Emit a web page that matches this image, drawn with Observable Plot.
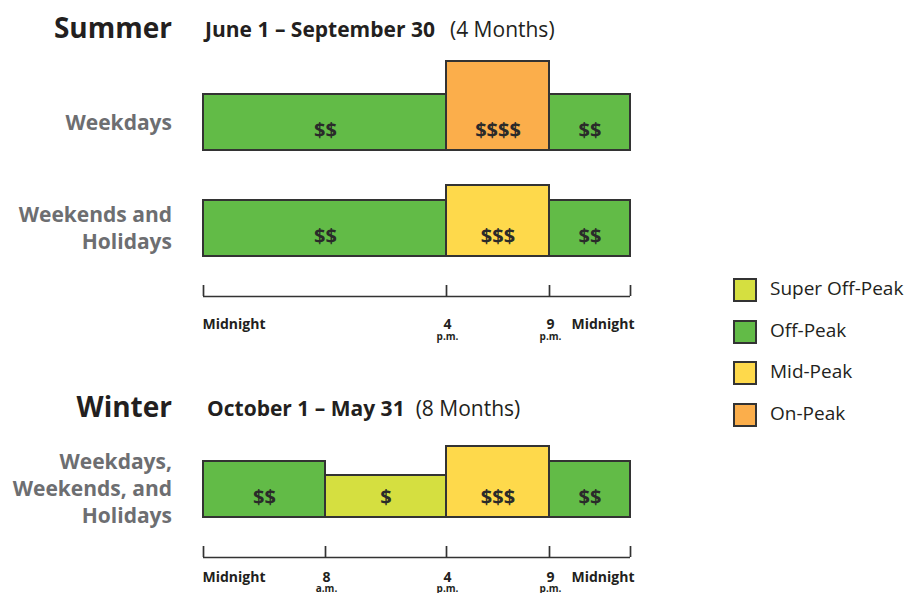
<!DOCTYPE html>
<html><head><meta charset="utf-8">
<script src="https://cdn.jsdelivr.net/npm/d3@7"></script>
<script src="https://cdn.jsdelivr.net/npm/@observablehq/plot@0.6"></script>
<style>
body{margin:0;background:#fff;}
#root{position:relative;width:906px;height:593px;overflow:hidden;font-family:"Open Sans",sans-serif;background:#fff;}
.abs{position:absolute;white-space:nowrap;line-height:1;}
.abs svg{display:block;}
</style></head><body><div id="root"></div>
<script>
// ---------- data ----------
const periodNames  = ["Super Off-Peak", "Off-Peak", "Mid-Peak", "On-Peak"];
const periodColors = ["#d5df40", "#62bb47", "#fed94b", "#fbae4b"];
const periodLevel  = [1, 2, 3, 4];
const periodPrice  = ["$", "$$", "$$$", "$$$$"];

const summerWeekdayStart  = [0, 16, 21];
const summerWeekdayEnd    = [16, 21, 24];
const summerWeekdayPeriod = ["Off-Peak", "On-Peak", "Off-Peak"];

const summerWeekendStart  = [0, 16, 21];
const summerWeekendEnd    = [16, 21, 24];
const summerWeekendPeriod = ["Off-Peak", "Mid-Peak", "Off-Peak"];

const winterStart  = [0, 8, 16, 21];
const winterEnd    = [8, 16, 21, 24];
const winterPeriod = ["Off-Peak", "Super Off-Peak", "Mid-Peak", "Off-Peak"];

const summerTickHours  = [0, 16, 21, 24];
const summerTickLabels = ["Midnight", "4", "9", "Midnight"];
const summerTickSub    = ["", "p.m.", "p.m.", ""];

const winterTickHours  = [0, 8, 16, 21, 24];
const winterTickLabels = ["Midnight", "8", "4", "9", "Midnight"];
const winterTickSub    = ["", "a.m.", "p.m.", "p.m.", ""];

// ---------- layout ----------
const W = 906;
// the diagram draws its time axis piecewise (not proportional to hours)
const X_BREAKS = [0, 8, 16, 21, 24];
const X_PX     = [203, 325, 446, 549, 630];
const xWarp = d3.scaleLinear(X_BREAKS, X_PX);
// bar height (px) per price level
const LEVEL_PX = [0, 42, 56, 71, 89];
const yWarp = d3.scaleLinear([0, 1, 2, 3, 4], LEVEL_PX);
const INK = "#333333";

const root = document.getElementById("root");
function place(svg, top, h) {
  svg.style.maxWidth = "none";
  const d = document.createElement("div");
  d.className = "abs";
  d.style.left = "0px";
  d.style.top = top + "px";
  d.style.width = W + "px";
  d.style.height = h + "px";
  d.appendChild(svg);
  root.appendChild(d);
}
function html(str, style) {
  const d = document.createElement("div");
  d.className = "abs";
  d.innerHTML = str;
  Object.assign(d.style, style);
  root.appendChild(d);
  return d;
}
const xScale = {transform: xWarp, domain: [0, W], range: [0, W], axis: null};

function rowPlot(start, end, period, bottomY) {
  const data = start.map((s, i) => {
    const k = periodNames.indexOf(period[i]);
    return {x1: s, x2: end[i], period: period[i], level: periodLevel[k], price: periodPrice[k]};
  });
  const H = 100, base = 96;
  const svg = Plot.plot({
    width: W, height: H, margin: 0,
    style: {background: "transparent", overflow: "visible"},
    x: xScale,
    y: {transform: yWarp, domain: [0, 100], range: [base, base - 100], axis: null},
    color: {domain: periodNames, range: periodColors},
    marks: [
      Plot.rect(data, {x1: "x1", x2: "x2", y1: 0, y2: "level", fill: "period", stroke: INK, strokeWidth: 2}),
      Plot.text(data, {x: d => (d.x1 + d.x2) / 2, y: 0, dy: -20, text: "price",
        fontSize: 20, fontWeight: 700, fill: "#2a2a2a", fontFamily: "Open Sans"})
    ]
  });
  place(svg, bottomY - base, H);
}

function axisPlot(hours, labels, subs, lineY, labelOffset, subOffset) {
  const n = hours.length;
  const data = hours.map((h, i) => ({h, label: labels[i], sub: subs[i],
    anchor: i === 0 ? "start" : i === n - 1 ? "end" : "middle"}));
  const H = 60, base = 14;
  const common = {fontFamily: "Open Sans", fontWeight: 700, fill: "#231f20", lineAnchor: "bottom"};
  const svg = Plot.plot({
    width: W, height: H, margin: 0,
    style: {background: "transparent", overflow: "visible"},
    x: xScale,
    y: {domain: [0, 1], range: [base, base - 11], axis: null},
    marks: [
      Plot.ruleY([0], {x1: 0, x2: 24, stroke: INK, strokeWidth: 1.7}),
      Plot.ruleX(hours, {x: d => d, y1: 0, y2: 1, stroke: INK, strokeWidth: 1.7}),
      Plot.text(data.filter(d => d.anchor === "start"), {...common, x: "h", y: 0, dy: labelOffset, text: "label", fontSize: 14, textAnchor: "start", dx: -1}),
      Plot.text(data.filter(d => d.anchor === "end"), {...common, x: "h", y: 0, dy: labelOffset, text: "label", fontSize: 14, textAnchor: "end", dx: 4}),
      Plot.text(data.filter(d => d.anchor === "middle"), {...common, x: "h", y: 0, dy: labelOffset, text: "label", fontSize: 14, textAnchor: "middle", dx: 1}),
      Plot.text(data.filter(d => d.sub), {...common, x: "h", y: 0, dy: labelOffset + subOffset, text: "sub", fontSize: 10, textAnchor: "middle", dx: 1})
    ]
  });
  place(svg, lineY - base, H);
}

// ---------- titles ----------
function title(season, range, months, baseline, subLeft, gap) {
  html(season, {right: (W - 172) + "px", top: (baseline - 0.888 * 28) + "px",
    fontSize: "28px", fontWeight: "700", color: "#231f20", textAlign: "right"});
  html(`<span style="font-weight:700">${range}</span><span style="font-weight:400;margin-left:${gap}px">${months}</span>`,
    {left: subLeft + "px", top: (baseline - 0.888 * 21) + "px", fontSize: "21px", color: "#231f20"});
}
function rowLabel(lines, firstBaseline) {
  html(lines.join("<br>"), {right: (W - 172) + "px", top: (firstBaseline - (27 - 1.362 * 21) / 2 - 1.069 * 21) + "px",
    fontSize: "21px", fontWeight: "700", color: "#6d6e71", textAlign: "right", lineHeight: "27px"});
}

title("Summer", "June 1 – September 30", "(4 Months)", 38, 205, 15);
rowLabel(["Weekdays"], 131);
rowPlot(summerWeekdayStart, summerWeekdayEnd, summerWeekdayPeriod, 150);
rowLabel(["Weekends and", "Holidays"], 223);
rowPlot(summerWeekendStart, summerWeekendEnd, summerWeekendPeriod, 256);
axisPlot(summerTickHours, summerTickLabels, summerTickSub, 296, 32, 11);

title("Winter", "October 1 – May 31", "(8 Months)", 417, 207, 11);
rowLabel(["Weekdays,", "Weekends, and", "Holidays"], 470);
rowPlot(winterStart, winterEnd, winterPeriod, 517);
axisPlot(winterTickHours, winterTickLabels, winterTickSub, 557, 24, 10);

// ---------- legend ----------
const legendCenters = [289, 331, 372, 414];
periodNames.forEach((name, i) => {
  const c = legendCenters[i];
  const sw = document.createElement("div");
  sw.className = "abs";
  Object.assign(sw.style, {left: "733px", top: (c - 11.5) + "px", width: "20px", height: "20px",
    background: periodColors[i], border: "2px solid " + INK});
  root.appendChild(sw);
  html(name, {left: "770px", top: (c + 7 - 0.888 * 19) + "px", fontSize: "19px", color: "#231f20"});
});
</script></body></html>
